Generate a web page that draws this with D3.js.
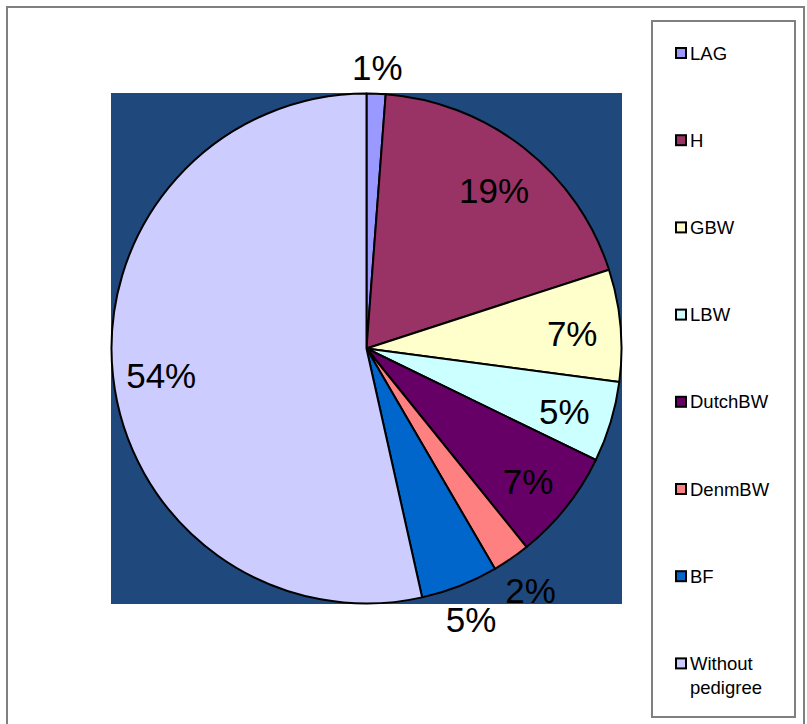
<!DOCTYPE html>
<html><head><meta charset="utf-8">
<script src="https://cdn.jsdelivr.net/npm/d3@7"></script>
<style>html,body{margin:0;padding:0;background:#fff;}svg{display:block;font-family:Arial,"Liberation Sans",sans-serif;}</style>
</head><body>
<svg id="c" width="807" height="724"></svg>
<script>
const categories = ["LAG","H","GBW","LBW","DutchBW","DenmBW","BF","Without pedigree"];
const values = [1.2, 18.8, 7.1, 5.1, 7.0, 2.4, 4.9, 53.5];
const colors = ["#9999ff","#993366","#ffffcc","#ccffff","#660066","#ff8080","#0066cc","#ccccff"];

const svg = d3.select("#c");
// outer chart border
svg.append("rect").attr("x",7).attr("y",7).attr("width",797).attr("height",730)
  .attr("fill","#fff").attr("stroke","#808080").attr("stroke-width",2);
// plot area
const px=111, py=93, pw=511, ph=511;
svg.append("rect").attr("x",px).attr("y",py).attr("width",pw).attr("height",ph).attr("fill","#1f497d");

const cx = px+pw/2, cy = py+ph/2, R = 255;
const g = svg.append("g").attr("transform",`translate(${cx},${cy})`);
const pie = d3.pie().sort(null).value(d=>d.v);
const data = categories.map((c,i)=>({c, v:values[i], col:colors[i]}));
const arcs = pie(data);
const arc = d3.arc().innerRadius(0).outerRadius(R);
g.selectAll("path.s").data(arcs).join("path").attr("class","s")
  .attr("d",arc).attr("fill",d=>d.data.col).attr("stroke","#000").attr("stroke-width",2).attr("stroke-linejoin","round");

const total = d3.sum(values);
const fs = 35;
g.selectAll("text.l").data(arcs).join("text").attr("class","l")
  .attr("font-size",fs).attr("fill","#000")
  .attr("text-anchor","middle").attr("dominant-baseline","central")
  .text(d=>Math.round(d.data.v/total*100)+"%")
  .attr("transform",function(d){
    const a=(d.startAngle+d.endAngle)/2;
    const sx=Math.sin(a), sy=-Math.cos(a);
    let r;
    if (d.data.v < 5) {
      const w=this.getComputedTextLength();
      const hw=w/2+6, hh=20;
      const t=Math.min(Math.abs(sx)>1e-6?hw/Math.abs(sx):1e9, Math.abs(sy)>1e-6?hh/Math.abs(sy):1e9);
      r=R+10+t;
    } else {
      r=R*0.81;
    }
    return `translate(${sx*r},${sy*r+4})`;
  });

// legend
const lx=652, ly=21, lw=143, lh=696;
svg.append("rect").attr("x",lx).attr("y",ly).attr("width",lw).attr("height",lh)
  .attr("fill","#fff").attr("stroke","#808080").attr("stroke-width",2);
const lg = svg.append("g");
const step = 87.2, y0 = 53;
data.forEach((d,i)=>{
  const y = y0 + i*step;
  lg.append("rect").attr("x",676).attr("y",y-5).attr("width",10).attr("height",10)
    .attr("fill",d.col).attr("stroke","#000").attr("stroke-width",2);
  const words = d.c==="Without pedigree" ? ["Without","pedigree"] : [d.c];
  words.forEach((w,j)=>{
    lg.append("text").attr("x",690).attr("y",y+j*24).attr("dominant-baseline","central")
      .attr("font-size",18.5).attr("fill","#000").text(w);
  });
});
</script>
</body></html>
